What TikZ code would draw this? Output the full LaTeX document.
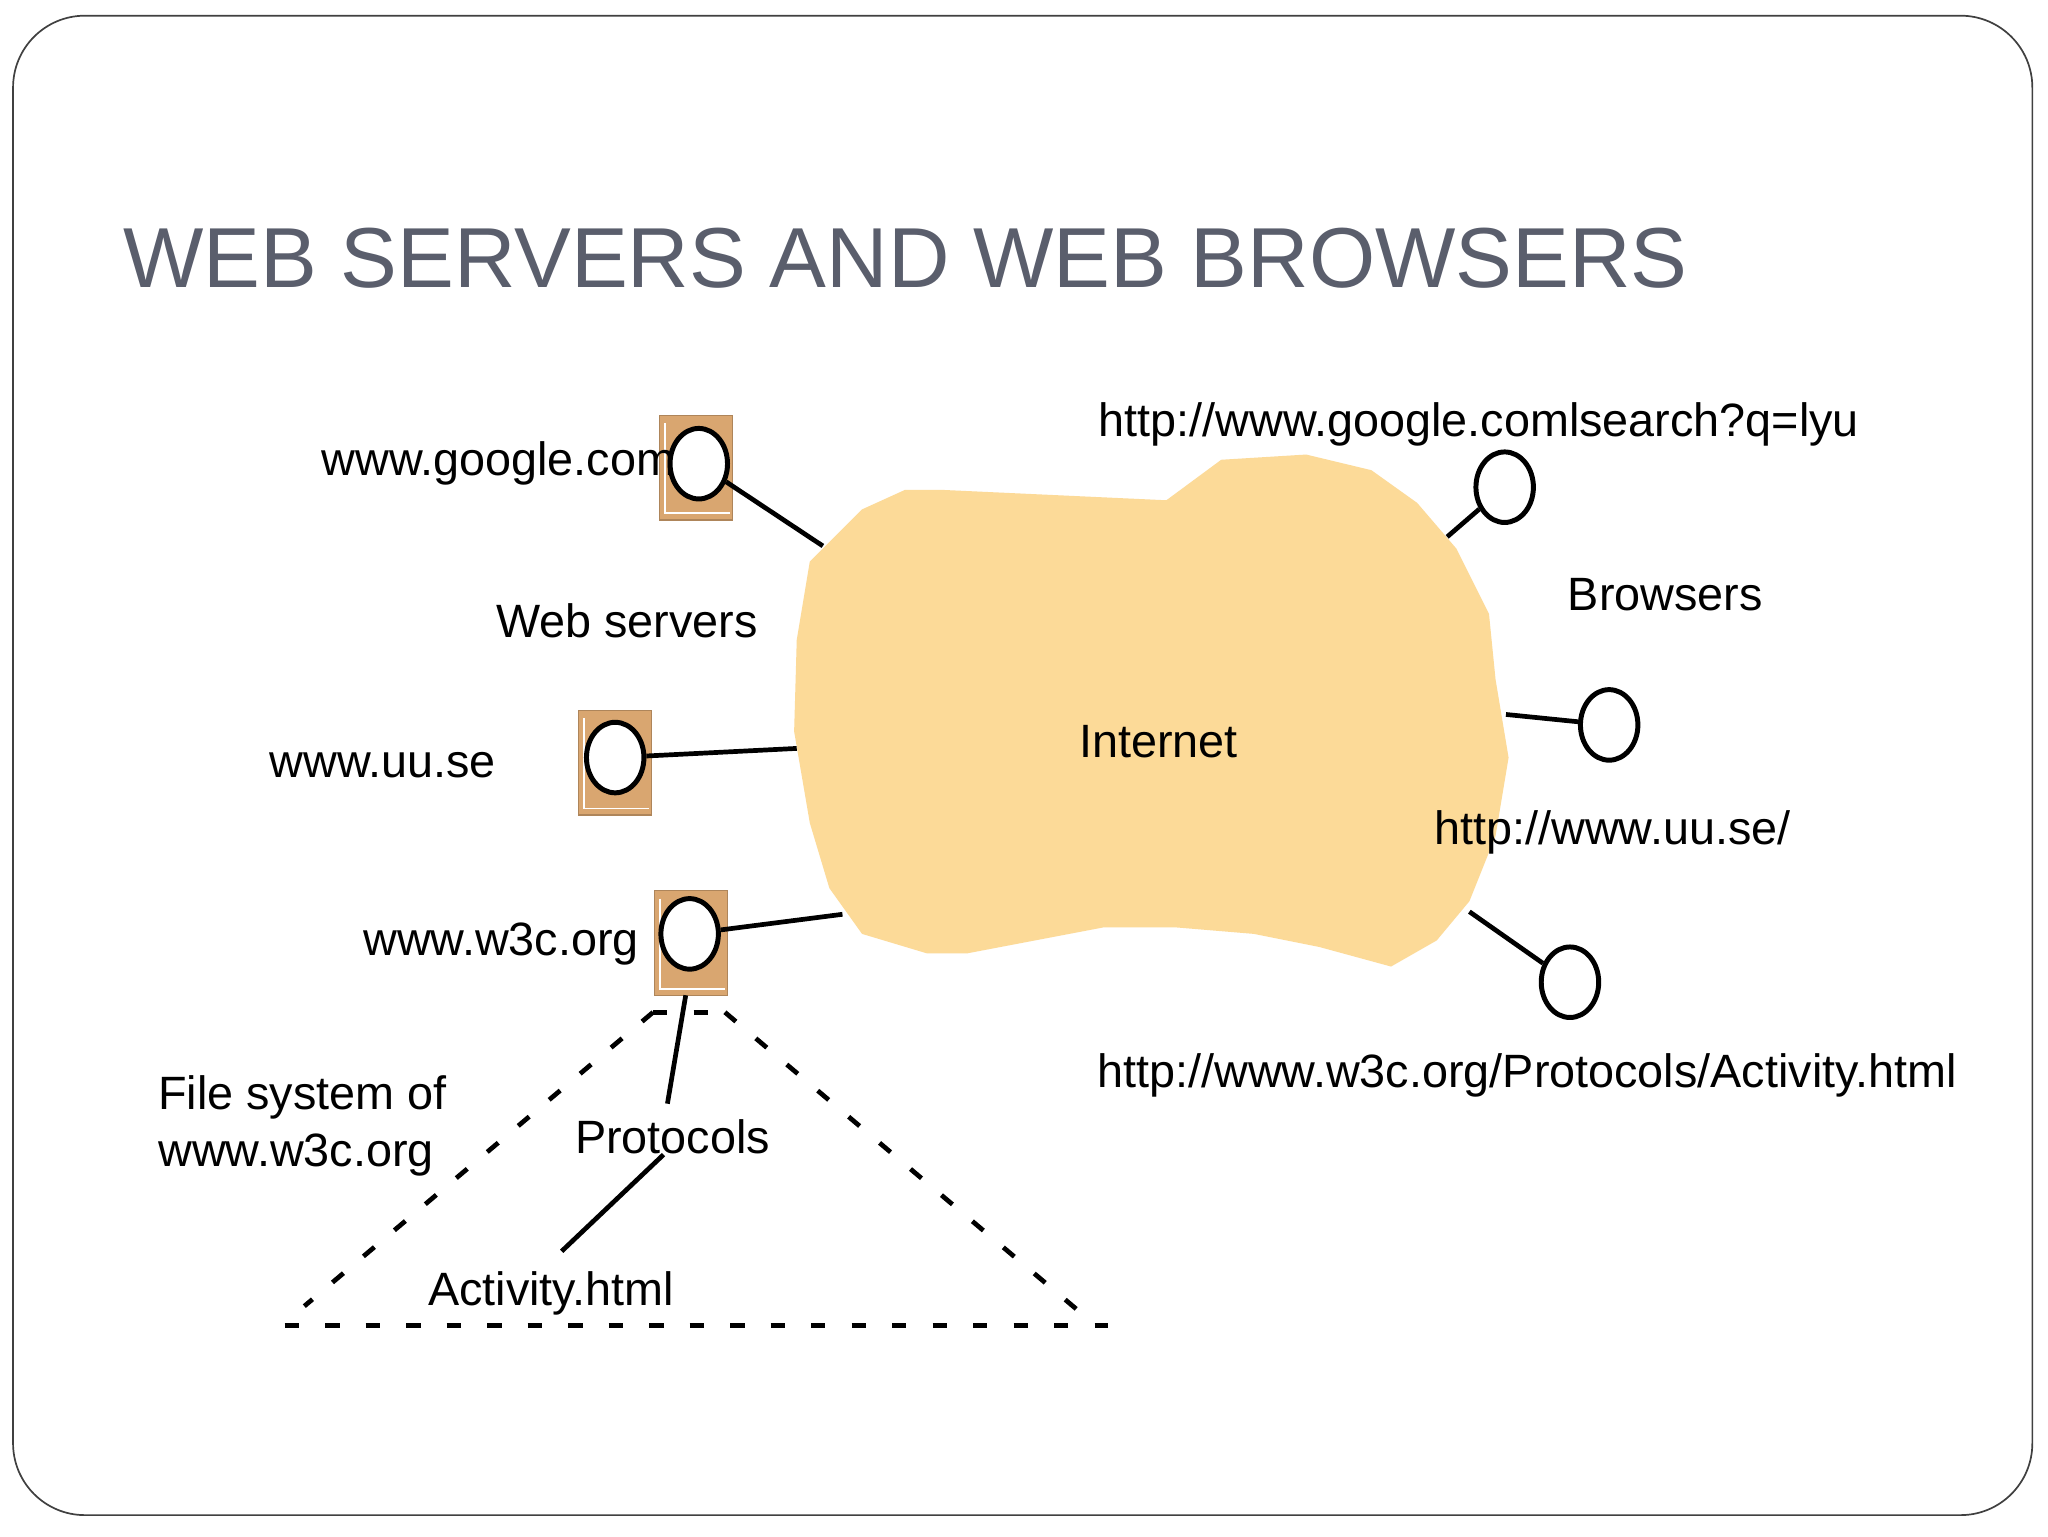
\documentclass[tikz,border=0pt]{standalone}
\usepackage{fontspec}
\setmainfont{Liberation Sans}
\usetikzlibrary{shapes.geometric}
\begin{document}
\begin{tikzpicture}[x=1pt,y=-1pt,
  lbl/.style={font=\fontsize{35.8}{43}\selectfont,inner sep=0pt},
  ln/.style={line width=3.6pt},
  dsh/.style={line width=3.6pt,dash pattern=on 11pt off 20pt},
  srv/.style={fill=srvc,draw=srvc!80!black,line width=1pt},
  circ/.style={draw=black,fill=white,line width=3.8pt,ellipse,minimum width=44pt,minimum height=54pt,inner sep=0pt}]
\definecolor{srvc}{HTML}{D9A670}
\definecolor{cloudc}{HTML}{FCDA98}
\definecolor{titlec}{HTML}{5A5E6C}
\useasboundingbox (0,0) rectangle (1568,1176);
\draw[line width=1.3pt,draw=black!75,rounded corners=55pt,fill=white] (10,12) rectangle (1556,1160);
\node[anchor=west,text=titlec,font=\fontsize{65.2}{70}\selectfont,inner sep=0pt] (title) at (94,198) {WEB SERVERS AND WEB BROWSERS};
% cloud
\fill[cloudc] (693,375)--(720,375)--(893,383)--(935,352)--(1000,348)--(1050,360)--(1085,385)--(1115,420)--(1140,470)--(1145,520)--(1155,580)--(1145,640)--(1125,690)--(1100,720)--(1065,740)--(1010,725)--(960,715)--(900,710)--(845,710)--(740,730)--(710,730)--(660,715)--(635,680)--(620,630)--(608,560)--(610,490)--(620,430)--(660,390)--cycle;
\coordinate (cg) at (630,418);
\coordinate (cu) at (610,573);
\coordinate (cw) at (645,700);
\coordinate (cb1) at (1108,411);
\coordinate (cb2) at (1153,547);
\coordinate (cb3) at (1125,698);
% servers
\foreach \n/\x/\y in {g/533/358,u/471/584,w/529/722}{
  \fill[srv] (\x-28,\y-40) rectangle (\x+28,\y+40);
  \draw[white,line width=1.5pt] (\x-24,\y-34) -- (\x-24,\y+35) -- (\x+26,\y+35);
}
\node[circ] (sg) at (535,355) {};
\node[circ] (su) at (471,580) {};
\node[circ] (sw) at (528,715) {};
\node[circ] (b1) at (1152,373) {};
\node[circ] (b2) at (1232,555) {};
\node[circ] (b3) at (1202,752) {};
\draw[ln] (sg) -- (cg);
\draw[ln] (su) -- (cu);
\draw[ln] (sw) -- (cw);
\draw[ln] (cb1) -- (b1);
\draw[ln] (cb2) -- (b2);
\draw[ln] (cb3) -- (b3);
% labels
\node[lbl,anchor=east] (tg) at (517,355) {www.google.com};
\node[lbl] (tws) at (480,475) {Web servers};
\node[lbl] (tu) at (293,586) {www.uu.se};
\node[lbl,anchor=west] (tw) at (278,723) {www.w3c.org};
\node[lbl,anchor=west,align=left] (tfs) at (121,862) {File system of\\www.w3c.org};
\node[lbl] (tp) at (515,870) {Protocols};
\node[lbl] (ta) at (422,990) {Activity.html};
\node[lbl] (ti) at (887,568) {Internet};
\node[lbl,anchor=west] (tb1) at (841,325) {http://www.google.comlsearch?q=lyu};
\node[lbl] (tbr) at (1275,455) {Browsers};
\node[lbl,anchor=west] (tb2) at (1098,637) {http://www.uu.se/};
\node[lbl,anchor=west] (tb3) at (840,823) {http://www.w3c.org/Protocols/Activity.html};
% tree
\coordinate (t1) at (500,775); \coordinate (t2) at (233,1000);
\coordinate (t3) at (555,775); \coordinate (t4) at (825,1003);
\coordinate (t5) at (218,1015); \coordinate (t6) at (848,1015);
\coordinate (p1) at (525,762); \coordinate (p2) at (511,845);
\coordinate (p3) at (508,884); \coordinate (p4) at (430,958);
\draw[dsh] (t1) -- (t2);
\draw[dsh] (t3) -- (t4);
\draw[dsh] (t5) -- (t6);
\draw[dsh] (t1) -- (t3);
\draw[ln] (p1) -- (p2);
\draw[ln] (p3) -- (p4);
\end{tikzpicture}
\end{document}
